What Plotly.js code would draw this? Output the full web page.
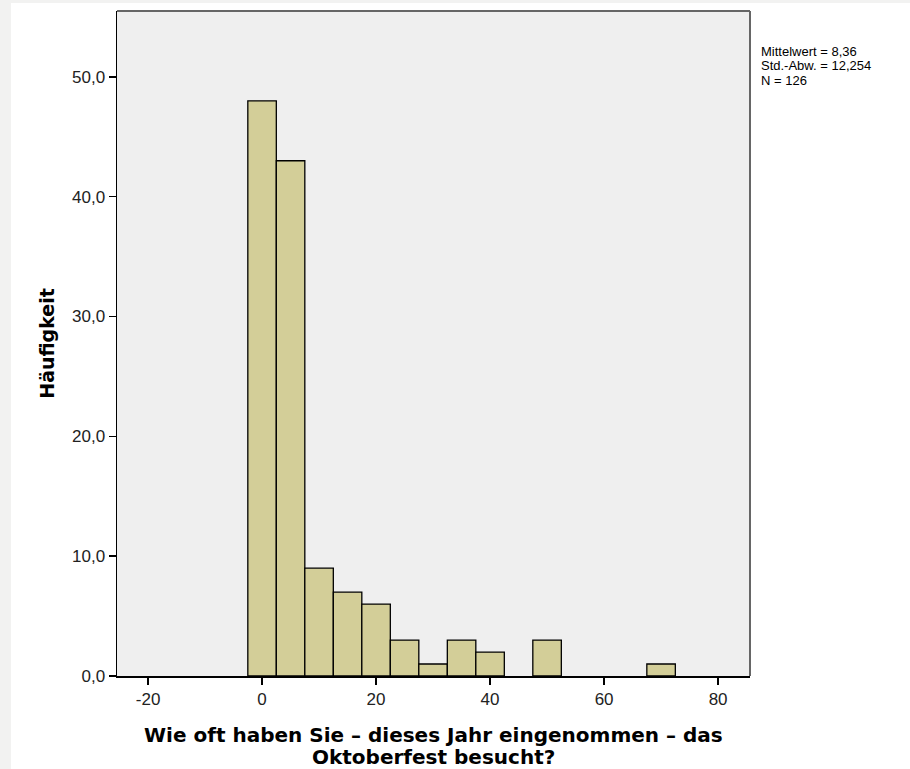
<!DOCTYPE html>
<html>
<head>
<meta charset="utf-8">
<script src="https://cdn.plot.ly/plotly-3.0.1.min.js"></script>
<style>
html,body{margin:0;padding:0;background:#f2f2f1;width:910px;height:769px;overflow:hidden;}
#chart{position:absolute;left:11px;top:3px;width:899px;height:766px;background:#fff;}
</style>
</head>
<body>
<div id="chart"></div>
<script>
const binCenters = [0, 5, 10, 15, 20, 25, 30, 35, 40, 45, 50, 55, 60, 65, 70];
const counts = [48, 43, 9, 7, 6, 3, 1, 3, 2, 0, 3, 0, 0, 0, 1];
const yTicks = [0, 10, 20, 30, 40, 50];
const yTickText = ["0,0", "10,0", "20,0", "30,0", "40,0", "50,0"];
const xTicks = [-20, 0, 20, 40, 60, 80];
const xTickText = ["-20", "0", "20", "40", "60", "80"];
const statsLines = ["Mittelwert = 8,36", "Std.-Abw. = 12,254", "N = 126"];
const xTitleLines = ["Wie oft haben Sie – dieses Jahr eingenommen – das", "Oktoberfest besucht?"];
const yTitle = "Häufigkeit";

// draw only non-empty bins
const xs = [], ys = [];
binCenters.forEach((c, i) => { if (counts[i] > 0) { xs.push(c); ys.push(counts[i]); } });

const trace = {
  type: 'bar',
  x: xs,
  y: ys,
  width: 5,
  marker: {color: '#d3ce98', line: {color: '#000000', width: 1.3}},
  hoverinfo: 'x+y'
};

const statsY = [0.9390, 0.9173, 0.8955];
const annotations = statsLines.map((t, i) => ({
  xref: 'paper', yref: 'paper', x: 1.014, y: statsY[i], xanchor: 'left', yanchor: 'middle',
  align: 'left', showarrow: false, text: t,
  font: {family: 'Liberation Sans, Arial', size: 13, color: '#000'}
}));
const xTitleY = [-0.0887, -0.1218];
xTitleLines.forEach((t, i) => annotations.push({
  xref: 'paper', yref: 'paper', x: 0.5, y: xTitleY[i], xanchor: 'center', yanchor: 'middle',
  showarrow: false, text: t,
  font: {family: 'DejaVu Sans', size: 20, color: '#000', weight: 'bold'}
}));

const layout = {
  width: 899, height: 766,
  margin: {l: 106, r: 160, t: 8, b: 93},
  paper_bgcolor: '#ffffff',
  plot_bgcolor: '#efefef',
  showlegend: false,
  bargap: 0,
  font: {family: 'Liberation Sans, Arial, sans-serif', size: 17, color: '#222'},
  xaxis: {
    range: [-25.45, 85.6],
    tickvals: xTicks, ticktext: xTickText,
    ticks: 'outside', ticklen: 7, tickwidth: 1.5, tickcolor: '#000',
    showgrid: false, zeroline: false,
    showline: true, linecolor: '#000', linewidth: 1.5,
    tickfont: {size: 17, color: '#222'}
  },
  yaxis: {
    range: [0, 55.5],
    tickvals: yTicks, ticktext: yTickText,
    ticks: 'outside', ticklen: 7, tickwidth: 1.5, tickcolor: '#000',
    showgrid: false, zeroline: false,
    showline: true, linecolor: '#000', linewidth: 1.5,
    tickfont: {size: 17, color: '#222'},
    title: {text: yTitle, font: {family: 'DejaVu Sans', size: 19, color: '#000', weight: 'bold'}, standoff: 12}
  },
  shapes: [
    {type: 'line', xref: 'paper', yref: 'paper', x0: 0, x1: 1, y0: 1, y1: 1, line: {color: '#666', width: 2}},
    {type: 'line', xref: 'paper', yref: 'paper', x0: 1, x1: 1, y0: 0, y1: 1, line: {color: '#666', width: 2}}
  ],
  annotations: annotations
};

Plotly.newPlot('chart', [trace], layout, {displayModeBar: false, staticPlot: true});
</script>
</body>
</html>
